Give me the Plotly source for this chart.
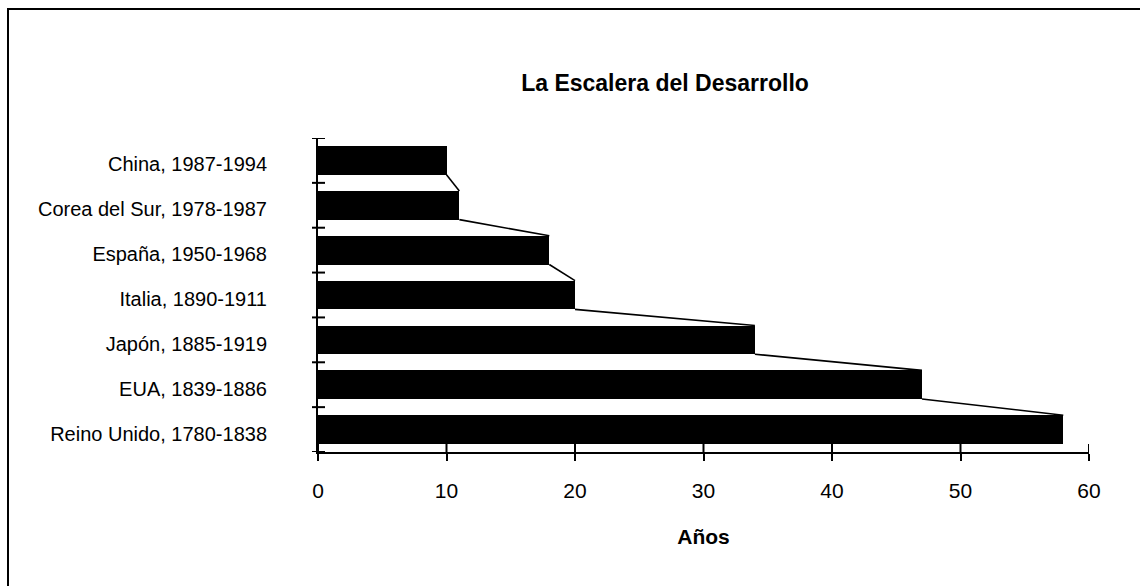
import plotly.graph_objects as go

# Years each country needed to go through the development ladder
countries = [
    "Reino Unido, 1780-1838",
    "EUA, 1839-1886",
    "Japón, 1885-1919",
    "Italia, 1890-1911",
    "España, 1950-1968",
    "Corea del Sur, 1978-1987",
    "China, 1987-1994",
]
years = [58, 47, 34, 20, 18, 11, 10]
x_tick_values = [0, 10, 20, 30, 40, 50, 60]

title_text = "La Escalera del Desarrollo"
x_title = "Años"

# Page geometry (pixels)
W, H = 1140, 586
M_L, M_R, M_T, M_B = 318, 51, 138, 134
PLOT_W = W - M_L - M_R
PLOT_H = H - M_T - M_B

BAR_W = 0.64
FONT = "Liberation Sans, Arial, sans-serif"
positions = list(range(len(countries)))
y_range = [-0.5, len(countries) - 0.5]
x_range = [x_tick_values[0], x_tick_values[-1]]

fig = go.Figure()

fig.add_trace(go.Bar(
    x=years, y=positions, orientation="h", width=BAR_W,
    marker=dict(color="black", line=dict(width=0)),
    showlegend=False, hoverinfo="x+text", text=countries, textposition="none",
))

# Series lines: from the lower edge of each bar's end to the upper edge of the next bar's end
line_x, line_y = [], []
for i in range(len(years) - 1, 0, -1):
    line_x += [years[i], years[i - 1], None]
    line_y += [positions[i] - BAR_W / 2, positions[i - 1] + BAR_W / 2, None]
fig.add_trace(go.Scatter(
    x=line_x, y=line_y, mode="lines",
    line=dict(color="black", width=1.6),
    showlegend=False, hoverinfo="skip",
))

fig.update_layout(
    width=W, height=H,
    margin=dict(l=M_L, r=M_R, t=M_T, b=M_B, pad=0),
    paper_bgcolor="white", plot_bgcolor="white",
    font=dict(family=FONT, color="black", size=20),
    bargap=0,
    title=dict(
        text=f"<b>{title_text}</b>",
        font=dict(family=FONT, size=23, color="black"),
        xref="container", yref="container",
        x=665 / W, y=1 - 83 / H, xanchor="center", yanchor="middle",
    ),
    xaxis=dict(
        range=x_range, tickvals=x_tick_values,
        showgrid=False, zeroline=False,
        showline=True, linecolor="black", linewidth=2,
        ticks="outside", ticklen=7, tickwidth=2, tickcolor="black",
        tickfont=dict(family=FONT, size=21, color="black"),
        ticklabelstandoff=12,
        title=dict(text=f"<b>{x_title}</b>", font=dict(family=FONT, size=21, color="black"), standoff=28),
        fixedrange=True,
    ),
    yaxis=dict(
        range=y_range, tickvals=positions, ticktext=countries,
        showgrid=False, zeroline=False,
        showline=True, linecolor="black", linewidth=2,
        ticks="", tickfont=dict(family=FONT, size=20, color="black"),
        ticklabelstandoff=45, ticklabelshift=4,
        fixedrange=True,
    ),
)

# Cross ticks: inward half of the value-axis ticks
for v in x_tick_values:
    fig.add_shape(type="line", xref="x", yref="paper",
                  x0=v, x1=v, y0=0, y1=8 / PLOT_H,
                  line=dict(color="black", width=2))

# Category-axis ticks sit on the boundaries between categories, crossing the axis
for b in [p - 0.5 for p in positions] + [positions[-1] + 0.5]:
    fig.add_shape(type="line", xref="paper", yref="y",
                  x0=-6 / PLOT_W, x1=7 / PLOT_W, y0=b, y1=b,
                  line=dict(color="black", width=2))

# Chart frame
fig.add_shape(type="rect", xref="paper", yref="paper",
              x0=(8 - M_L) / PLOT_W, x1=(W + 20 - M_L) / PLOT_W,
              y0=-(M_B + 20) / PLOT_H, y1=(H - M_B - 9) / PLOT_H,
              line=dict(color="black", width=2), fillcolor="rgba(0,0,0,0)")

fig.write_html("out.html")
